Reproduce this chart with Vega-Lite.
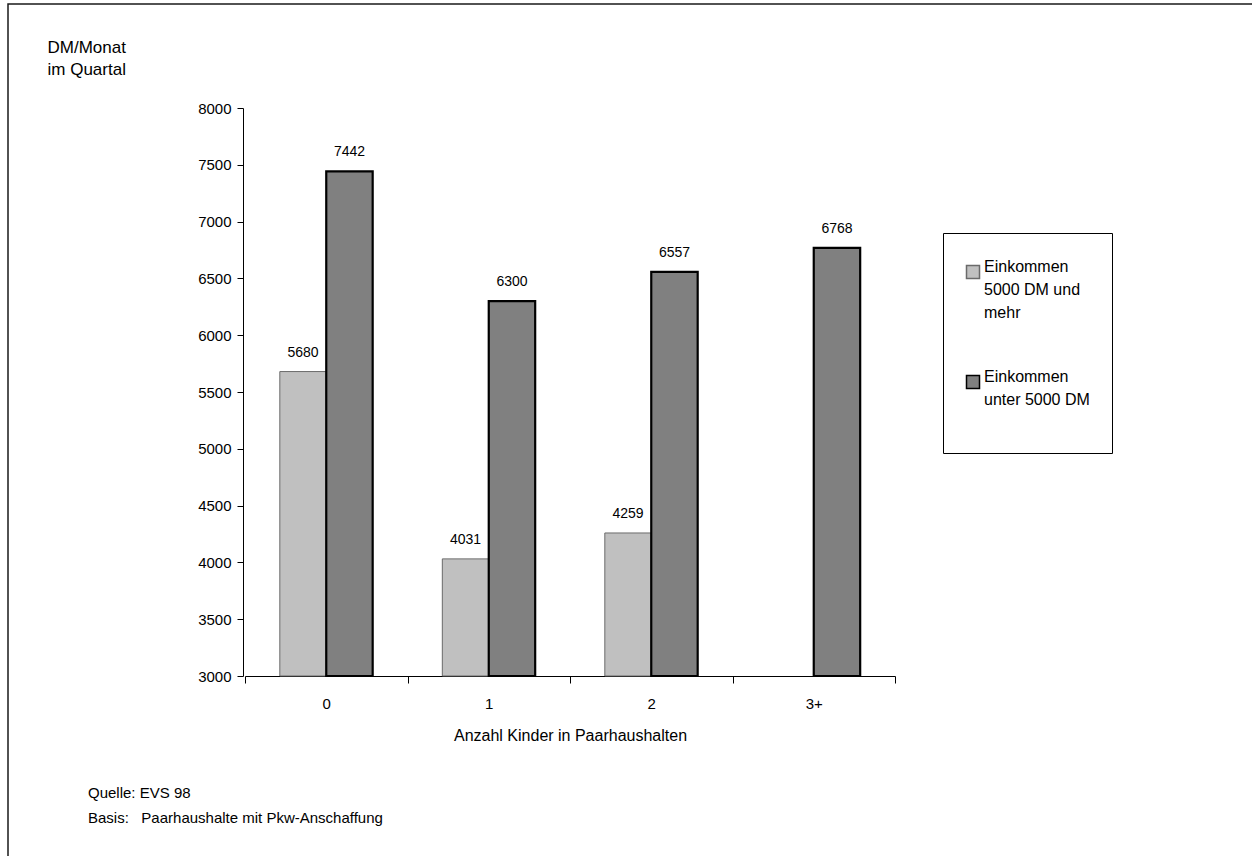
{
  "$schema": "https://vega.github.io/schema/vega-lite/v6.json",
  "width": 1244,
  "height": 852,
  "autosize": "none",
  "padding": {"left": 8, "top": 4, "right": 0, "bottom": 0},
  "background": "white",
  "config": {
    "font": "Liberation Sans",
    "view": {"stroke": "#1a1a1a", "strokeWidth": 1.5, "strokeDash": [1244, 2096, 853, 10]},
    "style": {"guide-label": {"lineHeight": 23}}
  },
  "title": {
    "text": ["Quelle: EVS 98", "Basis:\u00a0\u00a0\u00a0Paarhaushalte mit Pkw-Anschaffung"],
    "orient": "top",
    "anchor": "start",
    "frame": "group",
    "baseline": "top",
    "offset": 0,
    "dx": 80,
    "dy": 822,
    "fontSize": 15,
    "fontWeight": "normal",
    "color": "#000000",
    "lineHeight": 25
  },
  "data": {
    "values": [
      {"kinder": "0", "gruppe": "Einkommen 5000 DM und mehr", "wert": 5680},
      {"kinder": "0", "gruppe": "Einkommen unter 5000 DM", "wert": 7442},
      {"kinder": "1", "gruppe": "Einkommen 5000 DM und mehr", "wert": 4031},
      {"kinder": "1", "gruppe": "Einkommen unter 5000 DM", "wert": 6300},
      {"kinder": "2", "gruppe": "Einkommen 5000 DM und mehr", "wert": 4259},
      {"kinder": "2", "gruppe": "Einkommen unter 5000 DM", "wert": 6557},
      {"kinder": "3+", "gruppe": "Einkommen unter 5000 DM", "wert": 6768}
    ]
  },
  "encoding": {
    "x": {
      "field": "kinder",
      "type": "nominal",
      "sort": ["0", "1", "2", "3+"],
      "scale": {"range": [237, 887], "paddingInner": 0, "paddingOuter": 0},
      "axis": {
        "title": "Anzahl Kinder in Paarhaushalten",
        "offset": -180,
        "labelAngle": 0,
        "tickBand": "extent",
        "tickSize": 7,
        "tickColor": "#000000",
        "domainColor": "#000000",
        "labelFontSize": 15,
        "labelColor": "#000000",
        "labelPadding": 13,
        "titleFontSize": 16,
        "titleFontWeight": "normal",
        "titleColor": "#000000",
        "titlePadding": 16
      }
    },
    "xOffset": {
      "field": "gruppe",
      "type": "nominal",
      "sort": ["Einkommen 5000 DM und mehr", "Einkommen unter 5000 DM"],
      "scale": {"paddingInner": 0, "paddingOuter": 0.75}
    },
    "y": {
      "field": "wert",
      "type": "quantitative",
      "scale": {"domain": [3000, 8000], "range": [672, 104], "zero": false, "nice": false},
      "axis": {
        "title": ["DM/Monat", "im Quartal"],
        "offset": -235,
        "values": [3000, 3500, 4000, 4500, 5000, 5500, 6000, 6500, 7000, 7500, 8000],
        "format": "d",
        "grid": false,
        "tickSize": 6,
        "tickColor": "#000000",
        "domainColor": "#000000",
        "labelFontSize": 15,
        "labelColor": "#000000",
        "labelPadding": 6,
        "titleAngle": 0,
        "titleAlign": "left",
        "titleBaseline": "top",
        "titleX": -196,
        "titleY": 35,
        "titleFontSize": 17,
        "titleFontWeight": "normal",
        "titleColor": "#000000",
        "titleLineHeight": 22
      }
    }
  },
  "layer": [
    {
      "mark": {"type": "bar"},
      "encoding": {
        "y2": {"datum": 3000},
        "fill": {
          "field": "gruppe",
          "type": "nominal",
          "scale": {
            "domain": ["Einkommen 5000 DM und mehr", "Einkommen unter 5000 DM"],
            "range": ["#c0c0c0", "#808080"]
          },
          "legend": {
            "orient": "none",
            "legendX": 935,
            "legendY": 229,
            "title": "\u00a0",
            "titleFontSize": 4,
            "titlePadding": 5,
            "strokeColor": "#000000",
            "padding": 22,
            "symbolType": "square",
            "symbolSize": 169,
            "symbolStrokeWidth": 1.5,
            "labelFontSize": 16,
            "labelColor": "#000000",
            "labelBaseline": "alphabetic",
            "labelLimit": 220,
            "labelOffset": 3,
            "rowPadding": 48,
            "labelExpr": "indexof(datum.label, 'mehr') >= 0 ? ['Einkommen', '5000 DM und', 'mehr'] : ['Einkommen', 'unter 5000 DM', '']"
          }
        },
        "stroke": {
          "field": "gruppe",
          "type": "nominal",
          "scale": {
            "domain": ["Einkommen 5000 DM und mehr", "Einkommen unter 5000 DM"],
            "range": ["#6a6a6a", "#000000"]
          },
          "legend": {
            "orient": "none",
            "legendX": 935,
            "legendY": 229,
            "title": "\u00a0",
            "titleFontSize": 4,
            "titlePadding": 5,
            "strokeColor": "#000000",
            "padding": 22,
            "symbolType": "square",
            "symbolSize": 169,
            "symbolStrokeWidth": 1.5,
            "labelFontSize": 16,
            "labelColor": "#000000",
            "labelBaseline": "alphabetic",
            "labelLimit": 220,
            "labelOffset": 3,
            "rowPadding": 48,
            "labelExpr": "indexof(datum.label, 'mehr') >= 0 ? ['Einkommen', '5000 DM und', 'mehr'] : ['Einkommen', 'unter 5000 DM', '']"
          }
        },
        "strokeWidth": {
          "condition": {"test": "datum.gruppe === 'Einkommen unter 5000 DM'", "value": 2.2},
          "value": 1
        }
      }
    },
    {
      "mark": {"type": "text", "baseline": "bottom", "dy": -12, "fontSize": 14, "color": "#000000"},
      "encoding": {
        "text": {"field": "wert", "type": "quantitative", "format": "d"}
      }
    }
  ]
}
